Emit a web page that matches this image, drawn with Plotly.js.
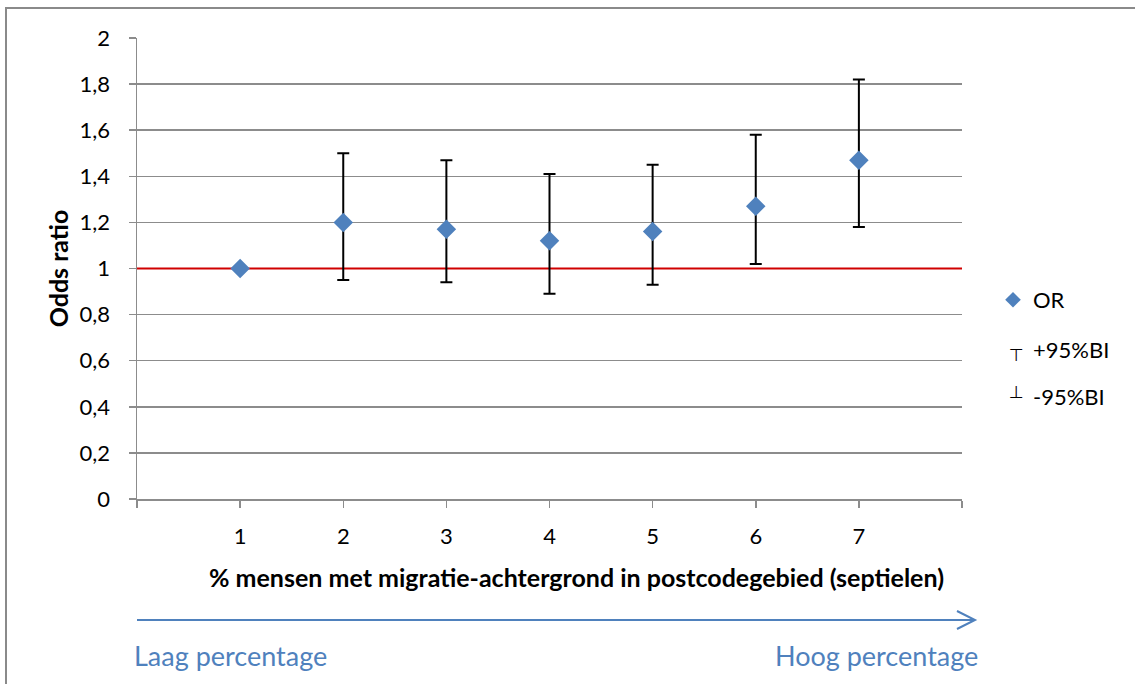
<!DOCTYPE html>
<html><head><meta charset="utf-8">
<script src="https://cdn.plot.ly/plotly-3.0.1.min.js"></script>
<style>html,body{margin:0;padding:0;background:#fff;} #chart{width:1135px;height:684px;}</style>
</head><body><div id="chart"></div>
<script>
// ---- data ----
const categories = ['1','2','3','4','5','6','7'];
const xPositions = [1,2,3,4,5,6,7];
const orValues = [1.00, 1.20, 1.17, 1.12, 1.16, 1.27, 1.47];
const upper95  = [null, 1.50, 1.47, 1.41, 1.45, 1.58, 1.82];
const lower95  = [null, 0.95, 0.94, 0.89, 0.93, 1.02, 1.18];
const yTickVals = [0,0.2,0.4,0.6,0.8,1,1.2,1.4,1.6,1.8,2];
const seriesNames = ['OR','+95%BI','-95%BI'];
const referenceValue = 1;
const xTitle = '% mensen met migratie-achtergrond in postcodegebied (septielen)';
const yTitle = 'Odds ratio';
const lowLabel = 'Laag percentage';
const highLabel = 'Hoog percentage';

// ---- layout helpers ----
const W = 1135, H = 684;
const M = {l:137, r:173, t:38, b:185};
const pw = W - M.l - M.r, ph = H - M.t - M.b;
const px = x => (x - M.l) / pw;
const py = y => (H - M.b - y) / ph;

const FONT = 'Lato, "Open Sans", sans-serif';
const BLUE = '#4F81BD';
const GRID = '#8c8c8c';
const xRange = [0, 8];

const errPlus  = orValues.map((v,i) => upper95[i] == null ? null : upper95[i] - v);
const errMinus = orValues.map((v,i) => lower95[i] == null ? null : v - lower95[i]);

const traces = [
  // red reference line at OR = 1 (spans the category axis)
  {type: 'scatter', mode: 'lines', x: xRange, y: [referenceValue, referenceValue],
   line: {color: '#D00000', width: 2}, showlegend: false, hoverinfo: 'skip', cliponaxis: false},
  {type: 'scatter', mode: 'markers', name: seriesNames[0],
   x: xPositions, y: orValues,
   marker: {symbol: 'diamond', size: 15, color: BLUE},
   error_y: {type: 'data', symmetric: false, array: errPlus, arrayminus: errMinus,
             color: '#000', thickness: 2, width: 6},
   showlegend: true}
];

const layout = {
  width: W, height: H,
  margin: {l: M.l, r: M.r, t: M.t, b: M.b, pad: 0},
  paper_bgcolor: '#fff', plot_bgcolor: '#fff',
  separators: ',.',
  font: {family: FONT, size: 23, color: '#000'},
  showlegend: true,
  legend: {x: px(993), y: py(300), xanchor: 'left', yanchor: 'middle',
           itemsizing: 'constant', font: {family: FONT, size: 22, color: '#000'},
           bgcolor: 'rgba(0,0,0,0)', borderwidth: 0},
  xaxis: {
    range: xRange, tickmode: 'array',
    tickvals: [xRange[0], ...xPositions, xRange[1]], ticktext: ['', ...categories, ''],
    showgrid: false, zeroline: false,
    showline: true, linecolor: GRID, linewidth: 1.5,
    ticks: 'outside', ticklen: 7, tickcolor: GRID, tickwidth: 1.5,
    ticklabelstandoff: 10,
    tickfont: {family: FONT, size: 22, color: '#000'},
    fixedrange: true
  },
  yaxis: {
    range: [0, 2], tickmode: 'array', tickvals: yTickVals,
    showgrid: true, gridcolor: GRID, gridwidth: 1.5, zeroline: false,
    showline: true, linecolor: GRID, linewidth: 1.5,
    ticks: 'outside', ticklen: 7, tickcolor: GRID, tickwidth: 1.5,
    ticklabelstandoff: 14,
    tickfont: {family: FONT, size: 22, color: '#000'},
    title: {text: '<b>' + yTitle + '</b>', font: {family: FONT, size: 25, color: '#000'}, standoff: 4},
    fixedrange: true
  },
  shapes: [
    // blue arrow shaft
    {type: 'line', xref: 'paper', yref: 'paper', x0: px(137), x1: px(975), y0: py(620), y1: py(620),
     line: {color: BLUE, width: 2}},
    // arrow head
    {type: 'path', xref: 'paper', yref: 'paper',
     path: 'M' + px(957) + ',' + py(611) + ' L' + px(975) + ',' + py(620) + ' L' + px(957) + ',' + py(629),
     line: {color: BLUE, width: 2}},
    // outer border
    {type: 'rect', xref: 'paper', yref: 'paper', x0: px(6), x1: px(1140), y0: py(8), y1: py(700),
     line: {color: '#8a8a8a', width: 2}, fillcolor: 'rgba(0,0,0,0)'}
  ],
  annotations: [
    {xref: 'paper', yref: 'paper', x: px(576), y: py(577), xanchor: 'center', yanchor: 'middle',
     text: '<b>' + xTitle + '</b>', showarrow: false, font: {family: FONT, size: 25, color: '#000'}},
    {xref: 'paper', yref: 'paper', x: px(132), y: py(655), xanchor: 'left', yanchor: 'middle',
     text: lowLabel, showarrow: false, font: {family: FONT, size: 27, color: BLUE}},
    {xref: 'paper', yref: 'paper', x: px(980), y: py(655), xanchor: 'right', yanchor: 'middle',
     text: highLabel, showarrow: false, font: {family: FONT, size: 27, color: BLUE}},
    {xref: 'paper', yref: 'paper', x: px(1031), y: py(349), xanchor: 'left', yanchor: 'middle',
     text: seriesNames[1], showarrow: false, font: {family: FONT, size: 22, color: '#000'}},
    {xref: 'paper', yref: 'paper', x: px(1031), y: py(396), xanchor: 'left', yanchor: 'middle',
     text: seriesNames[2], showarrow: false, font: {family: FONT, size: 22, color: '#000'}},
    {xref: 'paper', yref: 'paper', x: px(1016), y: py(355), xanchor: 'center', yanchor: 'middle',
     text: '\u22A4', showarrow: false, font: {family: 'DejaVu Sans', size: 17, color: '#000'}},
    {xref: 'paper', yref: 'paper', x: px(1016), y: py(392), xanchor: 'center', yanchor: 'middle',
     text: '\u22A5', showarrow: false, font: {family: 'DejaVu Sans', size: 17, color: '#000'}}
  ]
};

Plotly.newPlot('chart', traces, layout, {displayModeBar: false, staticPlot: true});
</script></body></html>
